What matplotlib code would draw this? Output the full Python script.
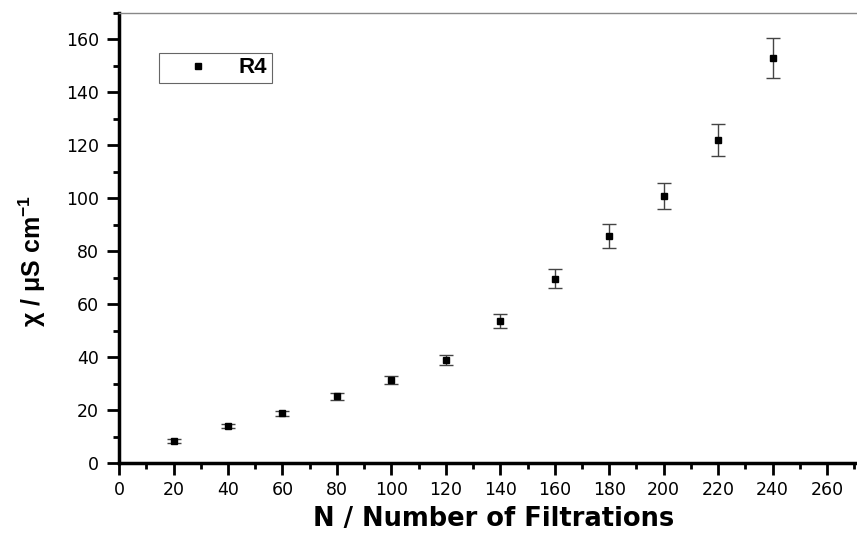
import matplotlib.pyplot as plt
from matplotlib.ticker import MultipleLocator

plt.rcParams['font.family'] = ['DejaVu Sans']
plt.rcParams['mathtext.default'] = 'regular'

n_filt = [20, 40, 60, 80, 100, 120, 140, 160, 180, 200, 220, 240]
chi = [8.5, 14.0, 18.8, 25.3, 31.3, 39.0, 53.6, 69.6, 85.7, 100.9, 121.9, 152.9]
chi_err = [0.7, 0.8, 1.0, 1.3, 1.6, 2.0, 2.7, 3.6, 4.4, 5.0, 6.0, 7.6]

fig = plt.figure(figsize=(8.57, 5.33), dpi=100)
fig.set_facecolor('w')
ax = fig.add_axes([0.139, 0.131, 0.861, 0.845])

ax.errorbar(n_filt, chi, yerr=chi_err, fmt='none', ecolor='#444444',
            elinewidth=1.0, capsize=5, capthick=1.0)
ax.plot(n_filt, chi, 's', color='k', markersize=4.5, label='R4')

ax.set_xlim(0, 271)
ax.set_ylim(0, 170)
ax.xaxis.set_major_locator(MultipleLocator(20))
ax.xaxis.set_minor_locator(MultipleLocator(10))
ax.yaxis.set_major_locator(MultipleLocator(20))
ax.yaxis.set_minor_locator(MultipleLocator(10))

ax.tick_params(which='major', direction='out', length=8.5, width=2,
               labelsize=12.5)
ax.tick_params(axis='y', which='major', pad=6)
ax.tick_params(axis='x', which='major', pad=4)
ax.tick_params(which='minor', direction='out', length=4.5, width=2)
ax.tick_params(top=False, right=False, which='both')

for s in ['left', 'bottom']:
    ax.spines[s].set_linewidth(2.5)
ax.spines['top'].set_linewidth(1.0)
ax.spines['top'].set_color('#888888')
ax.spines['right'].set_visible(False)

ax.set_xlabel('N / Number of Filtrations', fontsize=18.5, fontweight='bold')
ax.xaxis.set_label_coords(0.507, -0.096)
ax.set_ylabel(r'χ / μS cm$^{-1}$', fontsize=18, fontweight='bold',
              family='Liberation Sans')
ax.yaxis.set_label_coords(-0.096, 0.449)

leg = ax.legend(loc='upper left', bbox_to_anchor=(0.054, 0.911),
                borderaxespad=0, prop={'weight': 'bold', 'size': 16,
                                       'family': 'Liberation Sans'},
                fancybox=False, framealpha=1, edgecolor='#666666',
                borderpad=0.2, handlelength=3.1, handletextpad=0.3,
                markerscale=1.0)
leg.get_frame().set_linewidth(0.8)

fig.savefig('out.png', dpi=100)
